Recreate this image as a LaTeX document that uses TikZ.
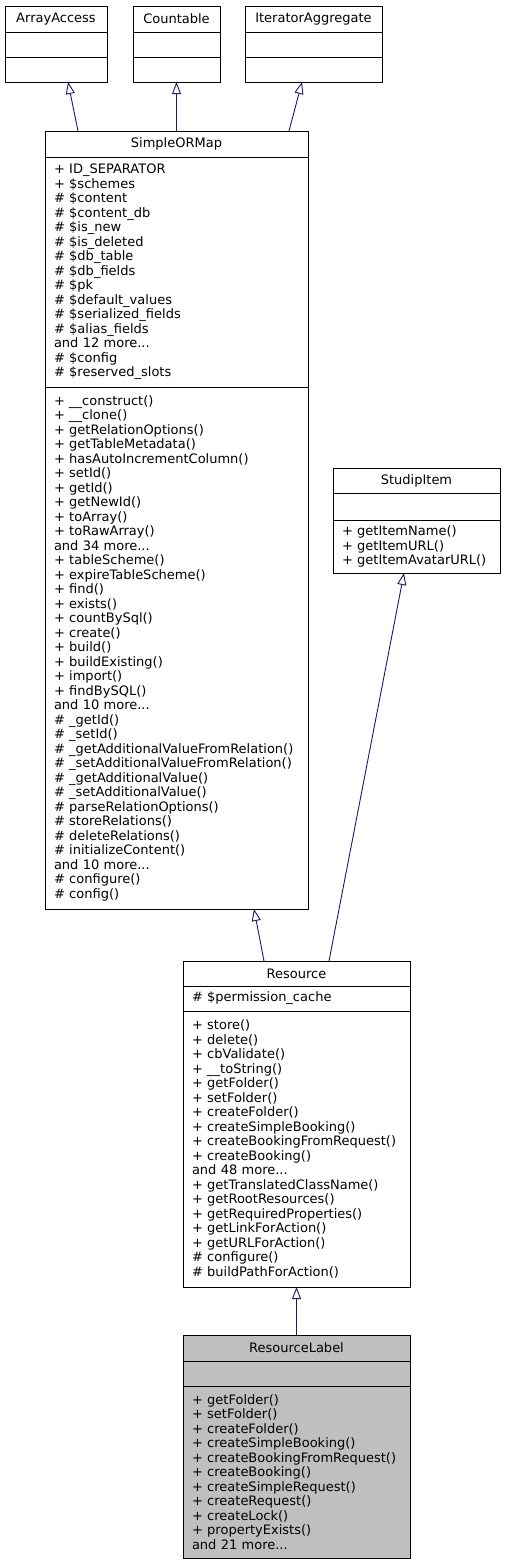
\documentclass[tikz,border=0pt]{standalone}
\usepackage{fontspec}
\setmainfont{DejaVu Sans}
\usetikzlibrary{positioning,arrows.meta}
\definecolor{edgeblue}{HTML}{191970}
\definecolor{hilite}{HTML}{BFBFBF}
\begin{document}
\begin{tikzpicture}[
   x=1pt,y=1pt,
   font=\fontsize{13}{14.5}\selectfont,
   part/.style={draw,line width=0.9pt,outer sep=0pt,inner xsep=9pt,inner ysep=0pt,align=left,text width=#1},
   title/.style={part=#1,align=center,anchor=north west},
   cur/.style={fill=hilite},
   inherit/.style={-{Triangle[open,length=12pt,width=9pt,fill=white]},edgeblue,line width=0.9pt}]
\useasboundingbox (0,0) rectangle (505,-1564);
% interfaces
\node[title=84pt,minimum height=26pt] (AA) at (5,-6) {ArrayAccess};
\node[part=84pt,minimum height=25pt,below=0pt of AA] (AA_a) {};
\node[part=84pt,minimum height=25pt,below=0pt of AA_a] (AA_m) {};
\node[title=69pt,minimum height=26pt] (CT) at (133,-6) {Countable};
\node[part=69pt,minimum height=25pt,below=0pt of CT] (CT_a) {};
\node[part=69pt,minimum height=25pt,below=0pt of CT_a] (CT_m) {};
\node[title=119pt,minimum height=26pt] (IA) at (245,-6) {IteratorAggregate};
\node[part=119pt,minimum height=25pt,below=0pt of IA] (IA_a) {};
\node[part=119pt,minimum height=25pt,below=0pt of IA_a] (IA_m) {};
% SimpleORMap
\node[title=245pt,minimum height=26pt] (SORM) at (45,-131) {SimpleORMap};
\node[part=245pt,minimum height=230pt,below=0pt of SORM] (SORM_a) {+ ID\_SEPARATOR\\+ \$schemes\\\# \$content\\\# \$content\_db\\\# \$is\_new\\\# \$is\_deleted\\\# \$db\_table\\\# \$db\_fields\\\# \$pk\\\# \$default\_values\\\# \$serialized\_fields\\\# \$alias\_fields\\and 12 more...\\\# \$config\\\# \$reserved\_slots};
\node[part=245pt,minimum height=522pt,below=0pt of SORM_a] (SORM_m) {+ \_\_construct()\\+ \_\_clone()\\+ getRelationOptions()\\+ getTableMetadata()\\+ hasAutoIncrementColumn()\\+ setId()\\+ getId()\\+ getNewId()\\+ toArray()\\+ toRawArray()\\and 34 more...\\+ tableScheme()\\+ expireTableScheme()\\+ find()\\+ exists()\\+ countBySql()\\+ create()\\+ build()\\+ buildExisting()\\+ import()\\+ findBySQL()\\and 10 more...\\\# \_getId()\\\# \_setId()\\\# \_getAdditionalValueFromRelation()\\\# \_setAdditionalValueFromRelation()\\\# \_getAdditionalValue()\\\# \_setAdditionalValue()\\\# parseRelationOptions()\\\# storeRelations()\\\# deleteRelations()\\\# initializeContent()\\and 10 more...\\\# configure()\\\# config()};
% StudipItem
\node[title=149pt,minimum height=25pt] (SI) at (333,-468) {StudipItem};
\node[part=149pt,minimum height=27pt,below=0pt of SI] (SI_a) {};
\node[part=149pt,minimum height=53pt,below=0pt of SI_a] (SI_m) {+ getItemName()\\+ getItemURL()\\+ getItemAvatarURL()};
% Resource
\node[title=209pt,minimum height=25pt] (R) at (183,-961) {Resource};
\node[part=209pt,minimum height=25pt,below=0pt of R] (R_a) {\# \$permission\_cache};
\node[part=209pt,minimum height=276pt,below=0pt of R_a] (R_m) {+ store()\\+ delete()\\+ cbValidate()\\+ \_\_toString()\\+ getFolder()\\+ setFolder()\\+ createFolder()\\+ createSimpleBooking()\\+ createBookingFromRequest()\\+ createBooking()\\and 48 more...\\+ getTranslatedClassName()\\+ getRootResources()\\+ getRequiredProperties()\\+ getLinkForAction()\\+ getURLForAction()\\\# configure()\\\# buildPathForAction()};
% ResourceLabel
\node[title=209pt,cur,minimum height=26pt] (RL) at (183,-1335) {ResourceLabel};
\node[part=209pt,cur,minimum height=25pt,below=0pt of RL] (RL_a) {};
\node[part=209pt,cur,minimum height=172pt,below=0pt of RL_a] (RL_m) {+ getFolder()\\+ setFolder()\\+ createFolder()\\+ createSimpleBooking()\\+ createBookingFromRequest()\\+ createBooking()\\+ createSimpleRequest()\\+ createRequest()\\+ createLock()\\+ propertyExists()\\and 21 more...};
% inheritance
\draw[inherit] ([xshift=-98.5pt]SORM.north) -- ([xshift=12pt]AA_m.south);
\draw[inherit] (SORM.north) -- (CT_m.south);
\draw[inherit] ([xshift=112.5pt]SORM.north) -- ([xshift=-11.5pt]IA_m.south);
\draw[inherit] ([xshift=-32.5pt]R.north) -- ([xshift=77.5pt]SORM_m.south);
\draw[inherit] ([xshift=32.5pt]R.north) -- ([xshift=-12.5pt]SI_m.south);
\draw[inherit] (RL.north) -- (R_m.south);
\end{tikzpicture}
\end{document}
